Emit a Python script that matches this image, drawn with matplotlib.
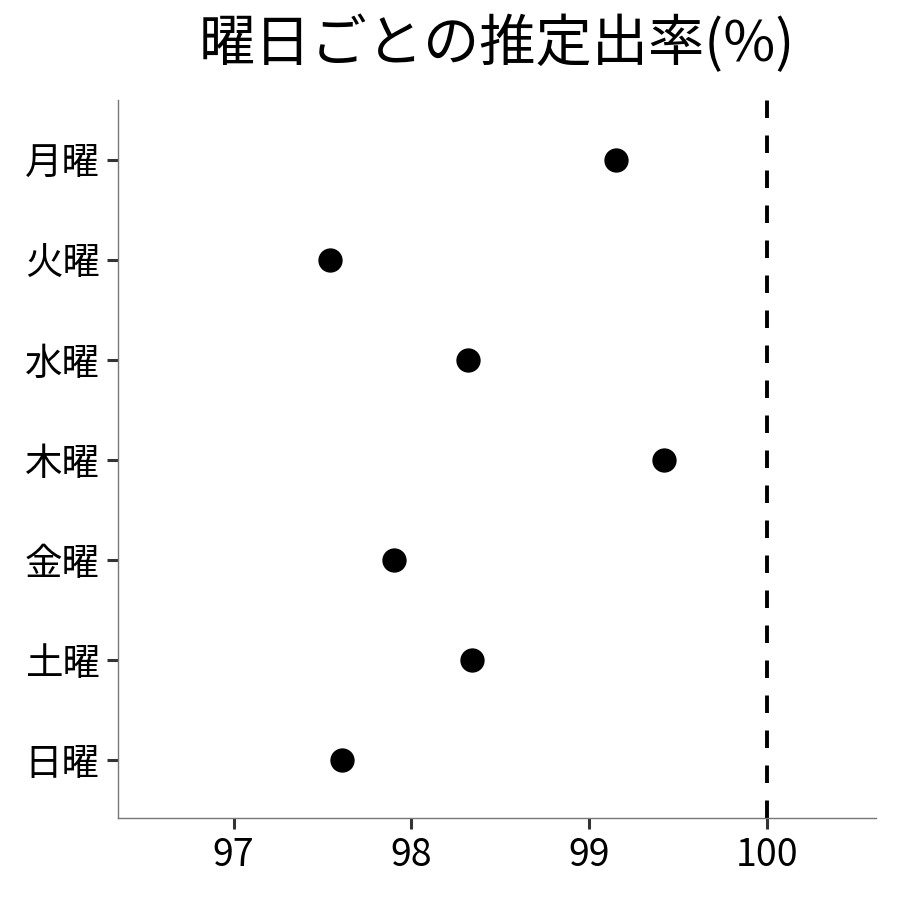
import matplotlib
matplotlib.use("Agg")
import matplotlib.pyplot as plt

plt.rcParams['font.family'] = ['Noto Sans CJK JP', 'DejaVu Sans']

# === Datos ===
dias = ["月曜", "火曜", "水曜", "木曜", "金曜", "土曜", "日曜"]
tasas = [99.15, 97.54, 98.32, 99.42, 97.90, 98.34, 97.61]
xticks = [97, 98, 99, 100]
referencia = 100

fig = plt.figure(figsize=(9, 9), dpi=100)
ax = fig.add_axes([0.131, 0.091, 0.842, 0.798])

pos = list(range(len(dias)))
ax.plot(tasas, pos, 'o', color='black', markersize=16.5, linestyle='none', zorder=3)
ax.axvline(referencia, color='black', linewidth=2.8, linestyle=(0, (4.5, 4.5)), zorder=2)

ax.set_yticks(pos)
ax.set_yticklabels(dias)
ax.set_ylim(len(dias) - 1 + 0.58, -0.6)
ax.set_xticks(xticks)
ax.set_xlim(96.35, 100.61)

for s in ['top', 'right']:
    ax.spines[s].set_visible(False)
for s in ['left', 'bottom']:
    ax.spines[s].set_color('#777777')
    ax.spines[s].set_linewidth(1.0)

ax.tick_params(axis='both', length=8, width=2.2, color='#333333', labelsize=27, labelcolor='black', pad=5)

# titulo centrado sobre el panel
ax.set_title("曜日ごとの推定出率(%)", fontsize=40.5, pad=28)

plt.savefig("out.png", dpi=100)
